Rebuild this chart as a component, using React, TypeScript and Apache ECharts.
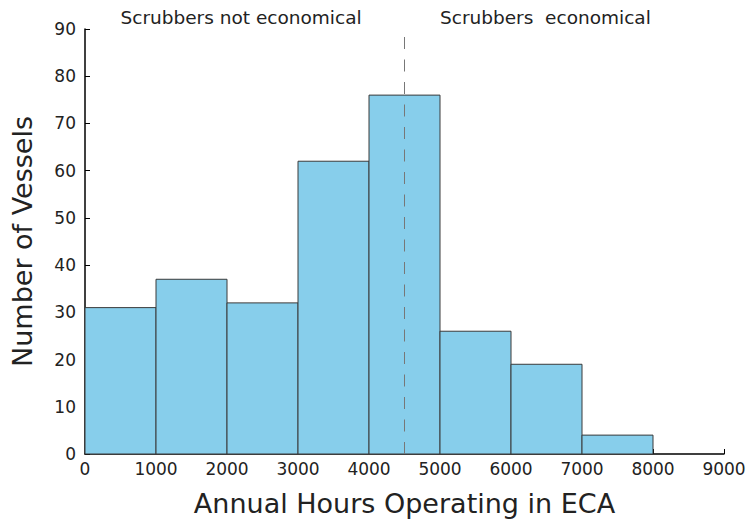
import React, { useEffect, useRef } from "react";
import * as echarts from "echarts";

const binStarts = [0, 1000, 2000, 3000, 4000, 5000, 6000, 7000];
const binEnds = [1000, 2000, 3000, 4000, 5000, 6000, 7000, 8000];
const counts = [31, 37, 32, 62, 76, 26, 19, 4];
const thresholdHours = 4500;
const annotations: [number, number, string][] = [
  [500, 90.4, "Scrubbers not economical"],
  [5000, 90.4, "Scrubbers  economical"],
];

const FONT = "DejaVu Sans";

export default function App() {
  const ref = useRef<HTMLDivElement>(null);
  useEffect(() => {
    if (!ref.current) return;
    document.body.style.margin = "0";
    const chart = echarts.init(ref.current, undefined, { renderer: "svg" });
    const barData = binStarts.map((s, i) => [s, binEnds[i], counts[i]]);
    chart.setOption({
      animation: false,
      grid: { left: 85, right: 22, top: 29, bottom: 65, outerBoundsMode: "none", containLabel: false },
      xAxis: {
        type: "value",
        min: 0,
        max: 9000,
        interval: 1000,
        name: "Annual Hours Operating in ECA",
        nameLocation: "middle",
        nameGap: 36,
        nameTextStyle: { fontFamily: FONT, fontSize: 27, color: "#222" },
        axisLine: { show: true, lineStyle: { color: "#000", width: 1.5 } },
        axisTick: { show: true, inside: true, length: 5, lineStyle: { color: "#000" } },
        axisLabel: {
          fontFamily: FONT,
          fontSize: 17,
          color: "#222",
          margin: 6,
          formatter: (v: number) => String(v),
        },
        splitLine: { show: false },
      },
      yAxis: {
        type: "value",
        min: 0,
        max: 90,
        interval: 10,
        name: "Number of Vessels",
        nameLocation: "middle",
        nameGap: 49,
        nameTextStyle: { fontFamily: FONT, fontSize: 27, color: "#222" },
        axisLine: { show: true, lineStyle: { color: "#000", width: 1.5 } },
        axisTick: { show: true, inside: true, length: 5, lineStyle: { color: "#000" } },
        axisLabel: { fontFamily: FONT, fontSize: 17, color: "#222", margin: 9 },
        splitLine: { show: false },
      },
      series: [
        {
          type: "custom",
          data: barData,
          encode: { x: [0, 1], y: 2 },
          renderItem: (params: any, api: any) => {
            const p0 = api.coord([api.value(0), api.value(2)]);
            const p1 = api.coord([api.value(1), 0]);
            return {
              type: "rect",
              shape: { x: p0[0], y: p0[1], width: p1[0] - p0[0], height: p1[1] - p0[1] },
              style: { fill: "#87CEEB", stroke: "#3a3a3a", lineWidth: 1 },
            };
          },
          markLine: {
            silent: true,
            symbol: "none",
            label: { show: false },
            lineStyle: { color: "#777", type: [12, 10.5], width: 1 },
            data: [{ xAxis: thresholdHours }],
          },
          z: 2,
        },
        {
          type: "custom",
          data: annotations,
          encode: { x: 0, y: 1 },
          clip: false,
          renderItem: (params: any, api: any) => {
            const p = api.coord([api.value(0), api.value(1)]);
            return {
              type: "text",
              x: p[0],
              y: p[1],
              style: {
                text: annotations[params.dataIndex][2],
                fontFamily: FONT,
                fontSize: 18.5,
                fill: "#222",
                align: "left",
                verticalAlign: "bottom",
              },
            };
          },
          z: 3,
        },
      ],
    });
    return () => chart.dispose();
  }, []);
  return <div ref={ref} style={{ width: 746, height: 519 }} />;
}
